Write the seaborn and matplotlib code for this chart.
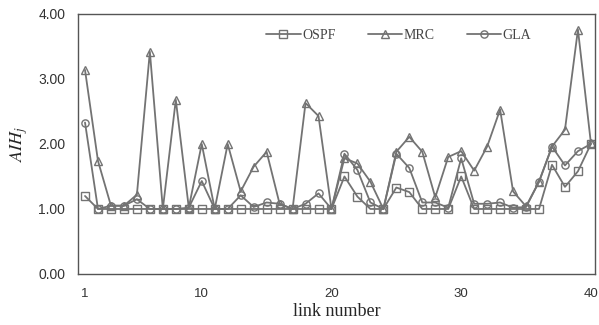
import numpy as np
import pandas as pd
import matplotlib
matplotlib.use("Agg")
import matplotlib.pyplot as plt
import seaborn as sns

# link numbers 1..40
links = list(range(1, 41))

ospf = [1.20, 1.00, 1.00, 1.00, 1.00, 1.00, 1.00, 1.00, 1.00, 1.00,
        1.00, 1.00, 1.00, 1.00, 1.00, 1.00, 1.00, 1.00, 1.00, 1.00,
        1.50, 1.19, 1.00, 1.00, 1.33, 1.26, 1.00, 1.00, 1.00, 1.50,
        1.00, 1.00, 1.00, 1.00, 1.00, 1.00, 1.68, 1.34, 1.58, 2.00]

mrc = [3.14, 1.74, 1.05, 1.05, 1.22, 3.42, 1.00, 2.68, 1.02, 2.00,
       1.00, 2.00, 1.27, 1.65, 1.88, 1.08, 1.00, 2.63, 2.43, 1.00,
       1.78, 1.70, 1.42, 1.00, 1.88, 2.11, 1.88, 1.18, 1.80, 1.89,
       1.59, 1.96, 2.53, 1.27, 1.04, 1.42, 1.96, 2.22, 3.76, 2.01]

gla = [2.33, 1.00, 1.05, 1.05, 1.15, 1.00, 1.00, 1.00, 1.02, 1.43,
       1.00, 1.00, 1.21, 1.03, 1.10, 1.08, 1.00, 1.08, 1.24, 1.00,
       1.85, 1.60, 1.10, 1.00, 1.85, 1.63, 1.10, 1.10, 1.02, 1.78,
       1.08, 1.08, 1.10, 1.02, 1.03, 1.42, 1.96, 1.67, 1.89, 2.00]

series = {"OSPF": (ospf, "s"), "MRC": (mrc, "^"), "GLA": (gla, "o")}

sns.set_style("white")
plt.rcParams["mathtext.fontset"] = "stix"
fig = plt.figure(figsize=(5.99, 3.25), dpi=100)
ax = fig.add_axes([0.130, 0.157, 0.863, 0.800])

gray = "#737373"
for name, (vals, mk) in series.items():
    sns.lineplot(x=links, y=vals, ax=ax, color=gray, linewidth=1.3,
                 marker=mk, markersize=5.2, markerfacecolor="none",
                 markeredgecolor=gray, markeredgewidth=1.0, label=name)

ax.set_xlim(0.45, 40.3)
ax.set_ylim(0, 4)
ax.set_yticks([0, 1, 2, 3, 4])
ax.set_yticklabels(["0.00", "1.00", "2.00", "3.00", "4.00"],
                   fontsize=10, family="Liberation Sans", color="#333333")
ax.set_xticks([1, 10, 20, 30, 40])
ax.set_xticklabels(["1", "10", "20", "30", "40"], fontsize=9.5,
                   family="Liberation Sans", color="#333333")
ax.set_xticks(links, minor=True)
ax.tick_params(axis="x", which="both", direction="in", length=4,
               color="#555555", pad=10)
ax.tick_params(axis="y", length=0, pad=9)

for sp in ax.spines.values():
    sp.set_color("#555555")
    sp.set_linewidth(1.0)

ax.set_xlabel("link number", family="Liberation Serif", fontsize=13,
              labelpad=2)
ax.set_ylabel("$AIH_j$", fontsize=13, labelpad=6)

leg = ax.legend(loc="upper left", bbox_to_anchor=(0.34, 0.99), ncol=3,
                frameon=False, prop={"family": "Liberation Serif", "size": 10},
                handlelength=2.5, columnspacing=2.3, handletextpad=0.1)
for t in leg.get_texts():
    t.set_color("#444444")

fig.savefig("out.png", dpi=100)
